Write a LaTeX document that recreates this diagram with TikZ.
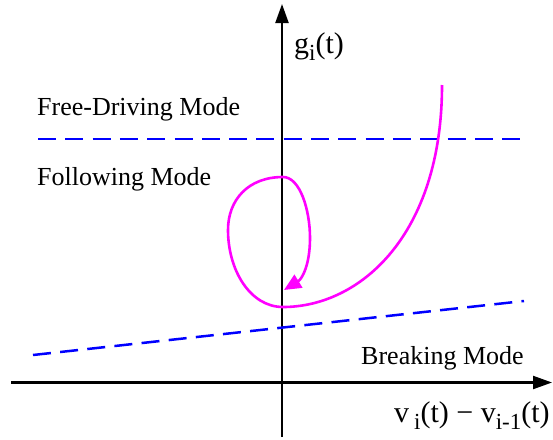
\documentclass[tikz,border=0pt]{standalone}
\usepackage{fontspec}
\setmainfont{Liberation Serif}
\usetikzlibrary{arrows.meta}
\definecolor{trajcol}{RGB}{255,0,255}
\definecolor{modecol}{RGB}{0,0,255}
\newcommand\lowsub[1]{\raisebox{-0.25em}{\fontsize{23}{25}\selectfont #1}}
\begin{document}
\begin{tikzpicture}[x=1pt,y=-1pt,
  axis/.style={line width=2.2pt, -{Triangle[length=19pt,width=13pt]}},
  modeline/.style={modecol, line width=2.5pt, dash pattern=on 18pt off 9.3pt},
  traj/.style={trajcol, line width=2.6pt},
  lbl/.style={inner sep=0pt, anchor=base west, font=\fontsize{26}{30}\selectfont},
  axlbl/.style={lbl, font=\fontsize{30}{34}\selectfont}]
\useasboundingbox (0,0) rectangle (553,439);
\coordinate (xs) at (11,382.5);
\coordinate (xe) at (552,382.5);
\coordinate (ys) at (282,437);
\coordinate (ye) at (282,4);
\draw[axis] (xs) -- (xe);
\draw[axis] (ys) -- (ye);
\coordinate (u1) at (38,139);
\coordinate (u2) at (525,139);
\draw[modeline] (u1) -- (u2);
\coordinate (l1) at (33,355);
\coordinate (l2) at (524,301);
\draw[modeline] (l1) -- (l2);
\coordinate (c0) at (442,85);
\coordinate (c1) at (283,307);
\coordinate (c2) at (228,230);
\coordinate (c3) at (283,177);
\coordinate (c4) at (310,238);
\coordinate (c5) at (284,290);
\draw[traj, -{Triangle[length=17pt,width=15pt]}] (c0) .. controls (442,235) and (360,307) .. (c1)
  .. controls (250,307) and (228,270) .. (c2)
  .. controls (228,200) and (248,177) .. (c3)
  .. controls (300,177) and (310,210) .. (c4)
  .. controls (310,265) and (302,279) .. (c5);
\node[lbl] (fd) at (37,115) {Free-Driving Mode};
\node[lbl] (fm) at (37,185) {Following Mode};
\node[lbl] (bm) at (361,364) {Breaking Mode};
\node[axlbl] (gl) at (294,53) {g\lowsub{i}(t)};
\node[axlbl] (vl) at (394,422) {v\,\lowsub{i}(t) − v\lowsub{i-1}(t)};
\end{tikzpicture}
\end{document}
